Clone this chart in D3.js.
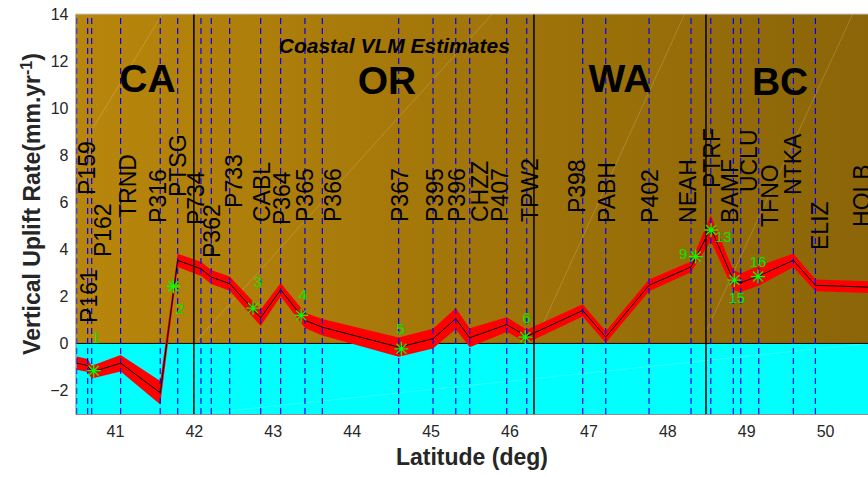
<!DOCTYPE html>
<html lang="en">
<head>
<meta charset="UTF-8">
<title>Coastal VLM Estimates</title>
<style>
  body { margin: 0; background: #fff; }
  text { font-family: "Liberation Sans", Arial, Helvetica, sans-serif; }
</style>
</head>
<body>
<script src="https://cdn.jsdelivr.net/npm/d3@7/dist/d3.min.js"></script>
<script>
// GPS stations along the coast (south -> north)
var stations   = ["P161","P159","P162","TRND","P316","PTSG","P734","P362","P733","CABL",
                  "P364","P365","P366","P367","P395","P396","CHZZ","P407","TPW2","P398",
                  "PABH","P402","NEAH","PTRF","BAMF","UCLU","TFNO","NTKA","ELIZ","HOLB"];
var stationLat = [40.514,40.654,40.705,41.072,41.574,41.795,42.090,42.221,42.454,42.847,
                  43.100,43.408,43.628,44.596,45.031,45.319,45.496,45.965,46.219,46.928,
                  47.220,47.769,48.301,48.551,48.837,48.931,49.159,49.598,49.877,50.640];
var rate       = [-0.84,-0.94,-1.22,-0.84,-2.10,3.53,3.17,2.82,2.54,1.09,
                  2.28,0.98,0.69,-0.16,0.20,1.05,0.24,0.80,0.30,1.40,
                  0.27,2.47,3.25,4.90,2.69,2.58,2.87,3.53,2.47,2.38];
var sigma      = [0.28,0.28,0.27,0.35,0.50,0.28,0.30,0.30,0.30,0.35,
                  0.29,0.32,0.35,0.41,0.42,0.45,0.40,0.31,0.28,0.26,
                  0.25,0.25,0.23,0.55,0.42,0.40,0.42,0.29,0.25,0.25];
// where each station name is written (latitude, rate value at text start)
var labelLat   = [40.670,40.645,40.848,41.165,41.545,41.799,42.027,42.230,42.508,42.863,
                  43.117,43.409,43.764,44.613,45.056,45.335,45.627,45.880,46.260,46.856,
                  47.236,47.781,48.263,48.567,48.795,49.036,49.302,49.594,49.936,50.469];
var labelY     = [0.87,6.31,3.67,5.33,5.12,6.22,5.03,3.63,5.76,5.16,
                  5.03,5.16,5.16,5.16,5.16,5.16,5.16,5.16,5.16,5.54,
                  5.12,5.12,5.12,6.60,5.12,6.43,4.95,6.31,3.97,4.95];

// numbered tide gauge estimates
var gaugeId       = ["1","2","3","4","5","6","9","13","15","16"];
var gaugeLat      = [40.730,41.740,42.750,43.360,44.630,46.200,48.360,48.555,48.850,49.150];
var gaugeRate     = [-1.16,2.43,1.50,1.19,-0.23,0.27,3.69,4.82,2.69,2.84];
var gaugeLabelLat = [40.760,41.824,42.813,43.383,44.621,46.217,48.200,48.709,48.880,49.150];
var gaugeLabelY   = [0.23,1.47,2.62,2.06,0.64,1.11,3.80,4.53,1.96,3.45];

// state / province borders and names
var borderLat = [42.0, 46.31, 48.49];
var regions   = ["CA","OR","WA","BC"];
var regionLat = [41.412, 44.448, 47.401, 49.430];
var regionY   = [10.68, 10.60, 10.68, 10.56];

var xTicks = d3.range(41, 51);
var yTicks = d3.range(-2, 15, 2);

// faint seams in the shaded background [lat1, v1, lat2, v2]
var seams = [[40.683,8.94,41.60,14],[42.04,0.14,45.78,14],[46.43,0.87,48.22,14],
             [48.50,0.57,50.35,14],[42.17,-2.96,50.55,0.0]];

var width = 868, height = 477;
var svg = d3.select("body").append("svg")
  .attr("width", width)
  .attr("height", height);

var x = d3.scaleLinear().domain([40.5, 50.55]).range([75.5, 868.5]);
var y = d3.scaleLinear().domain([-3, 14]).range([414, 14]);

var defs = svg.append("defs");
var grad = defs.append("linearGradient")
  .attr("id", "land")
  .attr("gradientUnits", "userSpaceOnUse")
  .attr("x1", x(40.5)).attr("x2", x(50.55)).attr("y1", 0).attr("y2", 0);
grad.append("stop").attr("offset", "0%").attr("stop-color", "#b8860b");
grad.append("stop").attr("offset", "100%").attr("stop-color", "#8b6508");

defs.append("clipPath").attr("id", "plot")
  .append("rect")
  .attr("x", x(40.5)).attr("y", y(14))
  .attr("width", x(50.55) - x(40.5)).attr("height", y(-3) - y(14));

var g = svg.append("g").attr("clip-path", "url(#plot)");

// background: above zero brown, below zero cyan
g.append("rect")
  .attr("x", x(40.5)).attr("y", y(14))
  .attr("width", x(50.55) - x(40.5)).attr("height", y(0) - y(14))
  .attr("fill", "url(#land)");
g.append("rect")
  .attr("x", x(40.5)).attr("y", y(0))
  .attr("width", x(50.55) - x(40.5)).attr("height", y(-3) - y(0))
  .attr("fill", "#00ffff");

g.selectAll(".seam").data(seams).enter().append("line")
  .attr("x1", function (d) { return x(d[0]); })
  .attr("y1", function (d) { return y(d[1]); })
  .attr("x2", function (d) { return x(d[2]); })
  .attr("y2", function (d) { return y(d[3]); })
  .attr("stroke", "#ffffff")
  .attr("stroke-opacity", 0.25)
  .attr("stroke-width", 0.7);

// zero line
g.append("line")
  .attr("x1", x(40.5)).attr("x2", x(50.55))
  .attr("y1", y(0)).attr("y2", y(0))
  .attr("stroke", "#000").attr("stroke-width", 1);

// uncertainty band
var band = d3.area()
  .x(function (d, i) { return x(stationLat[i]); })
  .y0(function (d, i) { return y(rate[i] - sigma[i]); })
  .y1(function (d, i) { return y(rate[i] + sigma[i]); });
g.append("path")
  .attr("d", band(rate))
  .attr("fill", "#ff0000");

// station dashed lines
g.selectAll(".sta").data(stationLat).enter().append("line")
  .attr("x1", function (d) { return x(d); })
  .attr("x2", function (d) { return x(d); })
  .attr("y1", y(-3)).attr("y2", y(14))
  .attr("stroke", "#0000ff")
  .attr("stroke-width", 1.2)
  .attr("stroke-dasharray", "6,4");

// borders
g.selectAll(".border").data(borderLat).enter().append("line")
  .attr("x1", function (d) { return x(d); })
  .attr("x2", function (d) { return x(d); })
  .attr("y1", y(-3)).attr("y2", y(14))
  .attr("stroke", "#000")
  .attr("stroke-width", 1.5);

// rate line
var line = d3.line()
  .x(function (d, i) { return x(stationLat[i]); })
  .y(function (d) { return y(d); });
g.append("path")
  .attr("d", line(rate))
  .attr("fill", "none")
  .attr("stroke", "#000")
  .attr("stroke-width", 1);

// station names (the last one runs off the right edge, as in the original)
svg.selectAll(".name").data(stations).enter().append("text")
  .attr("transform", function (d, i) {
    return "translate(" + x(labelLat[i]) + "," + y(labelY[i]) + ") rotate(-90)";
  })
  .attr("dy", "0.35em")
  .attr("font-size", 23)
  .attr("fill", "#000")
  .text(function (d) { return d; });

// region names
g.selectAll(".region").data(regions).enter().append("text")
  .attr("x", function (d, i) { return x(regionLat[i]); })
  .attr("y", function (d, i) { return y(regionY[i]); })
  .attr("text-anchor", "middle")
  .attr("font-size", 39)
  .attr("font-weight", "bold")
  .text(function (d) { return d; });

g.append("text")
  .attr("x", x(44.54)).attr("y", y(12.34))
  .attr("text-anchor", "middle")
  .attr("font-size", 21)
  .attr("font-weight", "bold")
  .attr("font-style", "italic")
  .text("Coastal VLM Estimates");

// gauge markers (asterisk)
var r = 7, rd = r * 0.72;
var star = "M" + (-r) + ",0L" + r + ",0M0," + (-r) + "L0," + r +
           "M" + (-rd) + "," + (-rd) + "L" + rd + "," + rd +
           "M" + (-rd) + "," + rd + "L" + rd + "," + (-rd);
g.selectAll(".gauge").data(gaugeRate).enter().append("path")
  .attr("transform", function (d, i) { return "translate(" + x(gaugeLat[i]) + "," + y(d) + ")"; })
  .attr("d", star)
  .attr("stroke", "#00ff00")
  .attr("stroke-width", 1.3)
  .attr("fill", "none");
g.selectAll(".gid").data(gaugeId).enter().append("text")
  .attr("x", function (d, i) { return x(gaugeLabelLat[i]); })
  .attr("y", function (d, i) { return y(gaugeLabelY[i]); })
  .attr("dy", "0.35em")
  .attr("text-anchor", "middle")
  .attr("font-size", 15)
  .attr("fill", "#00e600")
  .text(function (d) { return d; });

// axes
var axisColor = "#262626";
var yAxis = svg.append("g")
  .attr("transform", "translate(" + x(40.5) + ",0)")
  .call(d3.axisLeft(y).tickValues(yTicks).tickSize(0).tickPadding(7));
var xAxis = svg.append("g")
  .attr("transform", "translate(0," + y(-3) + ")")
  .call(d3.axisBottom(x).tickValues(xTicks).tickSize(0).tickPadding(12));
[xAxis, yAxis].forEach(function (a) {
  a.select(".domain").attr("stroke", "#8c8c8c");
  a.selectAll("text").attr("font-size", 16).attr("fill", axisColor)
    .attr("font-family", "Liberation Sans, Arial, sans-serif");
});
svg.append("line")
  .attr("x1", x(40.5)).attr("x2", x(50.55))
  .attr("y1", y(14)).attr("y2", y(14))
  .attr("stroke", "#c8c8c8");

svg.append("text")
  .attr("x", (x(40.5) + x(50.55)) / 2)
  .attr("y", 465)
  .attr("text-anchor", "middle")
  .attr("font-size", 23)
  .attr("font-weight", "bold")
  .attr("fill", axisColor)
  .text("Latitude (deg)");

var ylab = svg.append("text")
  .attr("transform", "translate(40,204) rotate(-90)")
  .attr("text-anchor", "middle")
  .attr("font-size", 23)
  .attr("font-weight", "bold")
  .attr("fill", axisColor);
ylab.append("tspan").text("Vertical Uplift Rate(mm.yr");
ylab.append("tspan").attr("baseline-shift", "super").attr("font-size", 16).text("-1");
ylab.append("tspan").text(")");
</script>
</body>
</html>
